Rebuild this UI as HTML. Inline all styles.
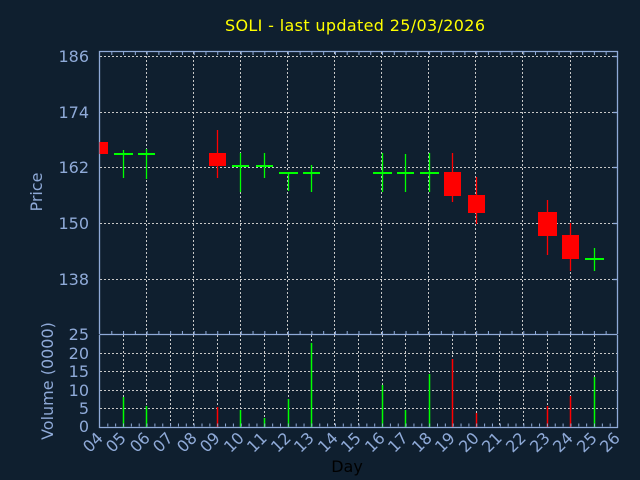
<!DOCTYPE html>
<html><head><meta charset="utf-8"><style>
html,body{margin:0;padding:0;background:#0f1f2f;}
svg{display:block;font-family:"DejaVu Sans","Liberation Sans",sans-serif;}
</style></head><body>
<svg width="640" height="480" viewBox="0 0 640 480" xmlns="http://www.w3.org/2000/svg">
<rect width="640" height="480" fill="#0f1f2f"/>
<text x="355" y="31" fill="#ffff00" font-size="16" text-anchor="middle" textLength="260">SOLI - last updated 25/03/2026</text>

<!-- main grid -->
<g stroke="#c8c8c8" stroke-width="1" stroke-dasharray="2,2">
<line x1="100" y1="56.5" x2="617" y2="56.5"/>
<line x1="100" y1="112.5" x2="617" y2="112.5"/>
<line x1="100" y1="167.5" x2="617" y2="167.5"/>
<line x1="100" y1="223.5" x2="617" y2="223.5"/>
<line x1="100" y1="279.5" x2="617" y2="279.5"/>
<line x1="146.5" y1="52" x2="146.5" y2="334"/>
<line x1="193.5" y1="52" x2="193.5" y2="334"/>
<line x1="240.5" y1="52" x2="240.5" y2="334"/>
<line x1="287.5" y1="52" x2="287.5" y2="334"/>
<line x1="334.5" y1="52" x2="334.5" y2="334"/>
<line x1="381.5" y1="52" x2="381.5" y2="334"/>
<line x1="428.5" y1="52" x2="428.5" y2="334"/>
<line x1="475.5" y1="52" x2="475.5" y2="334"/>
<line x1="522.5" y1="52" x2="522.5" y2="334"/>
<line x1="570.5" y1="52" x2="570.5" y2="334"/>
</g>
<!-- main axes -->
<g stroke="#8faad8" stroke-width="1.3" fill="none">
<polyline points="99.5,334 99.5,51.5 617.5,51.5 617.5,334"/>
<line x1="111.3" y1="53.5" x2="617" y2="53.5" stroke-width="3" stroke-dasharray="1,10.77"/>
<line x1="613" y1="56.5" x2="617" y2="56.5"/><line x1="613" y1="112.5" x2="617" y2="112.5"/>
<line x1="613" y1="167.5" x2="617" y2="167.5"/><line x1="613" y1="223.5" x2="617" y2="223.5"/>
<line x1="613" y1="279.5" x2="617" y2="279.5"/>
</g>
<g fill="#8faad8" font-size="16" text-anchor="end">
<text x="89" y="62">186</text><text x="89" y="118">174</text><text x="89" y="173">162</text>
<text x="89" y="229">150</text><text x="89" y="285">138</text>
</g>
<text transform="translate(42,192) rotate(-90)" fill="#8faad8" font-size="16" text-anchor="middle">Price</text>

<!-- candles -->
<g stroke-width="1.3">
<rect x="99.5" y="142" width="8.5" height="12" fill="#ff0000"/>
<line x1="123.5" y1="150" x2="123.5" y2="178" stroke="#00ff00"/><line x1="114" y1="154" x2="133" y2="154" stroke="#00ff00" stroke-width="2"/>
<line x1="146.5" y1="149" x2="146.5" y2="179" stroke="#00ff00"/><line x1="138" y1="154" x2="155" y2="154" stroke="#00ff00" stroke-width="2"/>
<line x1="217.5" y1="130" x2="217.5" y2="178" stroke="#ff0000"/><rect x="209" y="153" width="17" height="13" fill="#ff0000"/>
<line x1="240.5" y1="153" x2="240.5" y2="192" stroke="#00ff00"/><line x1="232" y1="166" x2="249" y2="166" stroke="#00ff00" stroke-width="2"/>
<line x1="264.5" y1="153" x2="264.5" y2="178" stroke="#00ff00"/><line x1="256" y1="166" x2="273" y2="166" stroke="#00ff00" stroke-width="2"/>
<line x1="288.5" y1="173" x2="288.5" y2="191" stroke="#00ff00"/><line x1="279" y1="173" x2="298" y2="173" stroke="#00ff00" stroke-width="2"/>
<line x1="311.5" y1="165" x2="311.5" y2="192" stroke="#00ff00"/><line x1="303" y1="173" x2="320" y2="173" stroke="#00ff00" stroke-width="2"/>
<line x1="382.5" y1="153" x2="382.5" y2="192" stroke="#00ff00"/><line x1="373" y1="173" x2="392" y2="173" stroke="#00ff00" stroke-width="2"/>
<line x1="405.5" y1="154" x2="405.5" y2="192" stroke="#00ff00"/><line x1="397" y1="173" x2="414" y2="173" stroke="#00ff00" stroke-width="2"/>
<line x1="429.5" y1="153" x2="429.5" y2="192" stroke="#00ff00"/><line x1="420" y1="173" x2="439" y2="173" stroke="#00ff00" stroke-width="2"/>
<line x1="452.5" y1="153" x2="452.5" y2="202" stroke="#ff0000"/><rect x="444" y="172" width="17" height="24" fill="#ff0000"/>
<line x1="476.5" y1="177" x2="476.5" y2="224" stroke="#ff0000"/><rect x="468" y="195" width="17" height="18" fill="#ff0000"/>
<line x1="547.5" y1="200" x2="547.5" y2="255" stroke="#ff0000"/><rect x="538" y="212" width="19" height="24" fill="#ff0000"/>
<line x1="570.5" y1="223" x2="570.5" y2="271" stroke="#ff0000"/><rect x="562" y="235" width="17" height="24" fill="#ff0000"/>
<line x1="594.5" y1="248" x2="594.5" y2="271" stroke="#00ff00"/><line x1="585" y1="259" x2="604" y2="259" stroke="#00ff00" stroke-width="2"/>
</g>

<!-- volume grid -->
<g stroke="#c8c8c8" stroke-width="1" stroke-dasharray="2,2">
<line x1="100" y1="408.5" x2="617" y2="408.5"/>
<line x1="100" y1="390.5" x2="617" y2="390.5"/>
<line x1="100" y1="371.5" x2="617" y2="371.5"/>
<line x1="100" y1="353.5" x2="617" y2="353.5"/>
<line x1="123.5" y1="335" x2="123.5" y2="427"/><line x1="146.5" y1="335" x2="146.5" y2="427"/>
<line x1="170.5" y1="335" x2="170.5" y2="427"/><line x1="193.5" y1="335" x2="193.5" y2="427"/>
<line x1="217.5" y1="335" x2="217.5" y2="427"/><line x1="240.5" y1="335" x2="240.5" y2="427"/>
<line x1="264.5" y1="335" x2="264.5" y2="427"/><line x1="288.5" y1="335" x2="288.5" y2="427"/>
<line x1="311.5" y1="335" x2="311.5" y2="427"/>
<line x1="334.5" y1="335" x2="334.5" y2="427"/><line x1="358.5" y1="335" x2="358.5" y2="427"/>
<line x1="382.5" y1="335" x2="382.5" y2="427"/><line x1="405.5" y1="335" x2="405.5" y2="427"/>
<line x1="429.5" y1="335" x2="429.5" y2="427"/><line x1="452.5" y1="335" x2="452.5" y2="427"/>
<line x1="476.5" y1="335" x2="476.5" y2="427"/>
<line x1="499.5" y1="335" x2="499.5" y2="427"/><line x1="523.5" y1="335" x2="523.5" y2="427"/>
<line x1="547.5" y1="335" x2="547.5" y2="427"/><line x1="570.5" y1="335" x2="570.5" y2="427"/>
<line x1="594.5" y1="335" x2="594.5" y2="427"/>
</g>
<!-- volume bars -->
<g stroke-width="1.5">
<line x1="123.5" y1="427" x2="123.5" y2="397" stroke="#00ff00"/>
<line x1="146.5" y1="427" x2="146.5" y2="406" stroke="#00ff00"/>
<line x1="217.5" y1="427" x2="217.5" y2="407" stroke="#ff0000"/>
<line x1="240.5" y1="427" x2="240.5" y2="410" stroke="#00ff00"/>
<line x1="264.5" y1="427" x2="264.5" y2="418" stroke="#00ff00"/>
<line x1="288.5" y1="427" x2="288.5" y2="399" stroke="#00ff00"/>
<line x1="311.5" y1="427" x2="311.5" y2="343" stroke="#00ff00"/>
<line x1="382.5" y1="427" x2="382.5" y2="385" stroke="#00ff00"/>
<line x1="405.5" y1="427" x2="405.5" y2="410" stroke="#00ff00"/>
<line x1="429.5" y1="427" x2="429.5" y2="374" stroke="#00ff00"/>
<line x1="452.5" y1="427" x2="452.5" y2="359" stroke="#ff0000"/>
<line x1="476.5" y1="427" x2="476.5" y2="413" stroke="#ff0000"/>
<line x1="547.5" y1="427" x2="547.5" y2="406" stroke="#ff0000"/>
<line x1="570.5" y1="427" x2="570.5" y2="396" stroke="#ff0000"/>
<line x1="594.5" y1="427" x2="594.5" y2="377" stroke="#00ff00"/>
</g>
<!-- volume axes -->
<g stroke="#8faad8" stroke-width="1.3" fill="none">
<polyline points="99.5,335 99.5,427.5 617.5,427.5 617.5,335"/>
<line x1="99.5" y1="334.5" x2="617.5" y2="334.5"/>
<line x1="107.3" y1="425" x2="617" y2="425" stroke-width="3" stroke-dasharray="1,6.85"/>
<line x1="111.3" y1="332.5" x2="617" y2="332.5" stroke-width="3" stroke-dasharray="1,10.77"/>
</g>
<g fill="#8faad8" font-size="16" text-anchor="end">
<text x="89" y="340">25</text><text x="89" y="359">20</text><text x="89" y="377">15</text>
<text x="89" y="396">10</text><text x="89" y="414">5</text><text x="89" y="432">0</text>
</g>
<text transform="translate(53,381) rotate(-90)" fill="#8faad8" font-size="16" text-anchor="middle">Volume (0000)</text>

<!-- x labels -->
<g fill="#8faad8" font-size="16" text-anchor="end">
<text transform="translate(104,439) rotate(-45)">04</text>
<text transform="translate(127,439) rotate(-45)">05</text>
<text transform="translate(151,439) rotate(-45)">06</text>
<text transform="translate(174,439) rotate(-45)">07</text>
<text transform="translate(198,439) rotate(-45)">08</text>
<text transform="translate(221,439) rotate(-45)">09</text>
<text transform="translate(245,439) rotate(-45)">10</text>
<text transform="translate(268,439) rotate(-45)">11</text>
<text transform="translate(292,439) rotate(-45)">12</text>
<text transform="translate(315,439) rotate(-45)">13</text>
<text transform="translate(339,439) rotate(-45)">14</text>
<text transform="translate(362,439) rotate(-45)">15</text>
<text transform="translate(386,439) rotate(-45)">16</text>
<text transform="translate(409,439) rotate(-45)">17</text>
<text transform="translate(433,439) rotate(-45)">18</text>
<text transform="translate(456,439) rotate(-45)">19</text>
<text transform="translate(480,439) rotate(-45)">20</text>
<text transform="translate(503,439) rotate(-45)">21</text>
<text transform="translate(527,439) rotate(-45)">22</text>
<text transform="translate(551,439) rotate(-45)">23</text>
<text transform="translate(574,439) rotate(-45)">24</text>
<text transform="translate(598,439) rotate(-45)">25</text>
<text transform="translate(621,439) rotate(-45)">26</text>
</g>
<text x="347" y="472" fill="#000000" font-size="16" text-anchor="middle">Day</text>
</svg>
</body></html>
